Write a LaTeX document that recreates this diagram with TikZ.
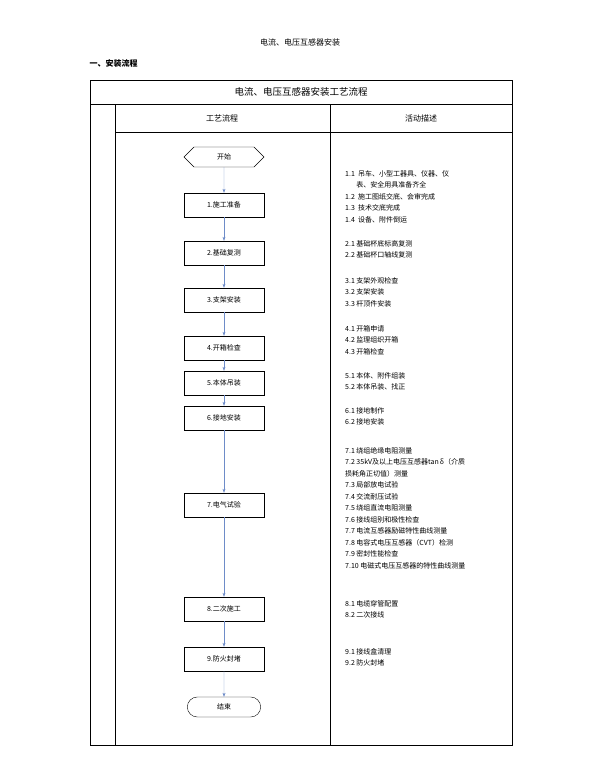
\documentclass[tikz,border=0pt]{standalone}
\usepackage{fontspec}
\setmainfont{Noto Sans CJK SC}
\usetikzlibrary{arrows.meta,positioning,shapes.misc,shapes.symbols}
\definecolor{flowblue}{RGB}{110,140,200}
\tikzset{
  stepbox/.style={draw, minimum width=80pt, minimum height=24pt, font=\fontsize{7}{9}\selectfont},
  desc/.style={anchor=north west, align=left, inner sep=0pt, font=\fontsize{7}{11.5}\selectfont},
  flow/.style={-{Stealth[length=4pt,width=3pt]}, flowblue, thin}
}
\begin{document}
\begin{tikzpicture}[x=1pt,y=-1pt]
  \useasboundingbox (0,0) rectangle (600,768);
  \node (title) at (300,42) {\fontsize{8}{10}\selectfont 电流、电压互感器安装};
  \node[anchor=west] (sec) at (86,63) {\fontsize{8}{10}\selectfont\bfseries 一、安装流程};
  % frame
  \draw (90,80) rectangle (512,745);
  \draw (90,104) -- (512,104);
  \draw (115,104) -- (115,745);
  \draw (330,104) -- (330,745);
  \draw (115,132) -- (512,132);
  \node (head) at (301,92) {\fontsize{9.5}{11}\selectfont 电流、电压互感器安装工艺流程};
  \node (colA) at (222,118) {\fontsize{8}{10}\selectfont 工艺流程};
  \node (colB) at (421,118) {\fontsize{8}{10}\selectfont 活动描述};
  % flow
  \node[draw, signal, signal to=west and east, minimum width=80pt, minimum height=20pt,
        font=\fontsize{7}{9}\selectfont] (start) at (224,157) {开始};
  \node[stepbox] (s1) at (224,205) {1.施工准备};
  \node[stepbox] (s2) at (224,253) {2.基础复测};
  \node[stepbox] (s3) at (224,300) {3.支架安装};
  \node[stepbox] (s4) at (224,348) {4.开箱检查};
  \node[stepbox] (s5) at (224,383) {5.本体吊装};
  \node[stepbox] (s6) at (224,418) {6.接地安装};
  \node[stepbox] (s7) at (224,505) {7.电气试验};
  \node[stepbox] (s8) at (224,609) {8.二次施工};
  \node[stepbox] (s9) at (224,659) {9.防火封堵};
  \node[draw, rounded rectangle, minimum width=80pt, minimum height=20pt,
        font=\fontsize{7}{9}\selectfont] (end) at (224,707) {结束};
  \draw[flow] (start) -- (s1);
  \foreach \a/\b in {s1/s2,s2/s3,s3/s4,s4/s5,s5/s6,s6/s7,s7/s8,s8/s9,s9/end}
    \draw[flow] (\a) -- (\b);
  % descriptions
  \node[desc] (d1) at (345,170) {1.1\ \ 吊车、小型工器具、仪器、仪\\\hspace{1.6em}表、安全用具准备齐全\\1.2\ \ 施工图纸交底、会审完成\\1.3\ \ 技术交底完成\\1.4\ \ 设备、附件倒运};
  \node[desc] (d2) at (345,240) {2.1\ 基础杯底标高复测\\2.2\ 基础杯口轴线复测};
  \node[desc] (d3) at (345,277) {3.1\ 支架外观检查\\3.2\ 支架安装\\3.3\ 杆顶件安装};
  \node[desc] (d4) at (345,325) {4.1\ 开箱申请\\4.2\ 监理组织开箱\\4.3\ 开箱检查};
  \node[desc] (d5) at (345,372) {5.1\ 本体、附件组装\\5.2\ 本体吊装、找正};
  \node[desc] (d6) at (345,407) {6.1\ 接地制作\\6.2\ 接地安装};
  \node[desc] (d7) at (345,447) {7.1\ 绕组绝缘电阻测量\\7.2\ 35kV及以上电压互感器tan\,δ（介质\\损耗角正切值）测量\\7.3\ 局部放电试验\\7.4\ 交流耐压试验\\7.5\ 绕组直流电阻测量\\7.6\ 接线组别和极性检查\\7.7\ 电流互感器励磁特性曲线测量\\7.8\ 电容式电压互感器（CVT）检测\\7.9\ 密封性能检查\\7.10\ 电磁式电压互感器的特性曲线测量};
  \node[desc] (d8) at (345,600) {8.1\ 电缆穿管配置\\8.2\ 二次接线};
  \node[desc] (d9) at (345,648) {9.1\ 接线盒清理\\9.2\ 防火封堵};
\end{tikzpicture}
\end{document}
